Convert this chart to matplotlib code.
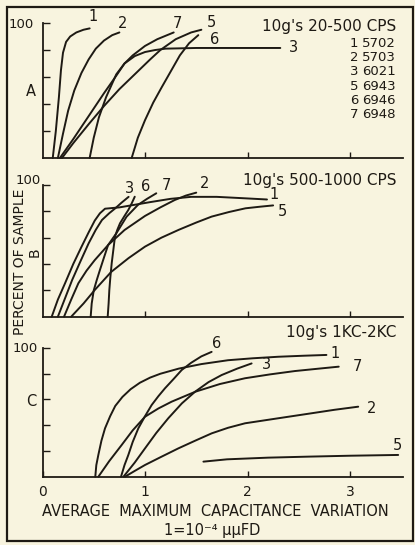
import matplotlib
matplotlib.use("Agg")
import matplotlib.pyplot as plt
from matplotlib.patches import Rectangle

BG = "#f8f4df"
INK = "#1e1a14"
plt.rcParams['font.family'] = ['DejaVu Sans']

# ---------------- data ----------------
# Panel A : 10g's 20-500 CPS
a1_x = [0.10, 0.13, 0.16, 0.18, 0.20, 0.23, 0.27, 0.33, 0.40, 0.46]
a1_y = [0, 20, 45, 65, 78, 86, 90, 93, 95, 96]
a2_x = [0.15, 0.20, 0.25, 0.31, 0.38, 0.45, 0.52, 0.60, 0.68, 0.75]
a2_y = [0, 18, 35, 50, 63, 73, 81, 87, 91, 93]
a3_x = [0.17, 0.30, 0.45, 0.60, 0.72, 0.80, 0.90, 1.00, 1.10, 1.20, 1.50, 1.90, 2.32]
a3_y = [0, 14, 31, 48, 61, 70, 75.5, 78.5, 80, 81, 81.5, 81.5, 81.5]
a5_x = [0.19, 0.30, 0.45, 0.60, 0.75, 0.90, 1.05, 1.15, 1.30, 1.45, 1.55]
a5_y = [0, 11, 25, 38.5, 51, 62, 73, 80, 88, 93, 95]
a6_x = [0.87, 0.93, 1.00, 1.08, 1.16, 1.25, 1.34, 1.43, 1.52]
a6_y = [0, 15, 28, 41, 52, 64, 76, 85, 91]
a7_x = [0.46, 0.50, 0.55, 0.62, 0.72, 0.80, 0.88, 1.00, 1.12, 1.28]
a7_y = [0, 15, 30, 45, 62, 70, 76, 83, 88, 93]

# Panel B : 10g's 500-1000 CPS
b1_x = [0.09, 0.15, 0.22, 0.30, 0.38, 0.45, 0.51, 0.56, 0.61, 0.75, 0.90, 1.05, 1.25, 1.45, 1.70, 1.95, 2.19]
b1_y = [0, 13, 25.4, 40, 53, 64, 73, 78.5, 82, 83, 85, 87, 89.5, 91, 91, 90, 89]
b2_x = [0.21, 0.28, 0.35, 0.43, 0.51, 0.64, 0.80, 1.00, 1.15, 1.29, 1.40, 1.50]
b2_y = [0, 13, 25.4, 35, 43, 54.4, 65.8, 76.5, 83, 88.6, 92, 94.2]
b3_x = [0.15, 0.22, 0.29, 0.37, 0.45, 0.52, 0.58, 0.65, 0.71, 0.77, 0.84]
b3_y = [0, 14, 28, 42, 55.7, 66, 73.4, 78.5, 82.3, 86.5, 91]
b5_x = [0.28, 0.40, 0.51, 0.67, 0.84, 1.00, 1.16, 1.33, 1.50, 1.65, 1.82, 1.98, 2.12, 2.25]
b5_y = [0, 10, 20.3, 34, 44.5, 53.2, 60, 66, 71.5, 76, 79.5, 82.3, 83.5, 84.5]
b6_x = [0.636, 0.645, 0.652, 0.662, 0.675, 0.69, 0.707, 0.73, 0.756, 0.80, 0.837, 0.87, 0.90]
b6_y = [0, 10, 20.3, 30, 40.5, 50, 60.7, 66, 70.9, 76.5, 81, 86, 91.1]
b7_x = [0.47, 0.48, 0.50, 0.53, 0.56, 0.60, 0.64, 0.72, 0.82, 0.93, 1.02, 1.11]
b7_y = [0, 10, 20, 28, 35.4, 45, 54.4, 63.3, 75.9, 84.8, 89.5, 93.7]

# Panel C : 10g's 1KC-2KC
c1_x = [0.515, 0.525, 0.545, 0.575, 0.61, 0.66, 0.71, 0.78, 0.86, 0.95, 1.05, 1.15, 1.33, 1.55, 1.81, 2.05, 2.30, 2.55, 2.77]
c1_y = [0, 9, 17, 28, 37.6, 47, 55, 62, 68, 73, 77, 80, 84, 87.5, 90.5, 92, 93.2, 94, 94.6]
c2_x = [0.805, 0.90, 1.00, 1.16, 1.325, 1.49, 1.651, 1.81, 1.976, 2.30, 2.626, 2.85, 3.08]
c2_y = [0, 4.5, 9.1, 15.5, 22, 28, 33.7, 38, 41.5, 45.4, 49.3, 52, 54.4]
c3_x = [0.79, 0.90, 1.00, 1.11, 1.227, 1.36, 1.488, 1.62, 1.748, 1.90, 2.04]
c3_y = [0, 11, 22, 34, 45.4, 57, 66, 73.5, 79, 84, 88]
c5_x = [1.57, 1.80, 2.20, 2.60, 3.00, 3.47]
c5_y = [11.7, 13.5, 14.8, 15.6, 16.3, 16.9]
c6_x = [0.766, 0.80, 0.837, 0.88, 0.935, 1.00, 1.065, 1.13, 1.195, 1.28, 1.358, 1.45, 1.55, 1.65]
c6_y = [0, 9, 16.8, 27, 37.6, 47, 55.7, 62.5, 68.7, 76, 82.9, 88.5, 93.5, 97]
c7_x = [0.545, 0.65, 0.772, 0.88, 1.00, 1.13, 1.26, 1.49, 1.73, 1.976, 2.22, 2.463, 2.70, 2.89]
c7_y = [0, 12, 24.6, 36, 46.6, 53, 58.3, 66, 72, 76.5, 79.5, 82.1, 84, 85.5]

# curve label anchors (data coordinates)
a_lab = ["1", "2", "7", "5", "6", "3"]
a_lab_x = [0.45, 0.74, 1.27, 1.60, 1.63, 2.40]
a_lab_y = [105, 100, 100, 100.5, 88, 81.5]
b_lab = ["3", "6", "7", "2", "1", "5"]
b_lab_x = [0.80, 0.96, 1.16, 1.54, 2.21, 2.30]
b_lab_y = [97.5, 98.5, 100, 101, 92.5, 80]
c_lab = ["6", "1", "3", "7", "2", "5"]
c_lab_x = [1.65, 2.81, 2.14, 3.03, 3.16, 3.42]
c_lab_y = [103.5, 96, 87, 85.5, 53, 24.5]

panel_titles = ["10g's 20-500 CPS", "10g's 500-1000 CPS", "10g's 1KC-2KC"]
panel_letters = ["A", "B", "C"]
tube_ids = ["1", "2", "3", "5", "6", "7"]
tube_types = ["5702", "5703", "6021", "6943", "6946", "6948"]
x_ticks = [0, 1, 2, 3]
x_ticklabels = ["0", "1", "2", "3"]
y_ticks = [20, 40, 60, 80, 100]
y_top_label = "100"

# ---------------- layout ----------------
W, H = 415, 545
FS = 10.5
fig = plt.figure(figsize=(W / 100, H / 100), dpi=100, facecolor=BG)

def px_axes(l, t, r, b):
    return fig.add_axes([l / W, 1 - b / H, (r - l) / W, (b - t) / H])

def ftext(x, y, s, **kw):
    kw.setdefault("fontsize", FS)
    kw.setdefault("color", INK)
    return fig.text(x / W, 1 - y / H, s, **kw)

XMAX = 3.52
x0px, upx = 42.5, 102.5
rpx = x0px + XMAX * upx
axA = px_axes(x0px, 23, rpx, 158)
axB = px_axes(x0px, 185, rpx, 316.7)
axC = px_axes(x0px, 348, rpx, 476.7)

panels = [
    (axA, [(a1_x, a1_y), (a2_x, a2_y), (a3_x, a3_y), (a5_x, a5_y), (a6_x, a6_y), (a7_x, a7_y)],
     a_lab, a_lab_x, a_lab_y),
    (axB, [(b1_x, b1_y), (b2_x, b2_y), (b3_x, b3_y), (b5_x, b5_y), (b6_x, b6_y), (b7_x, b7_y)],
     b_lab, b_lab_x, b_lab_y),
    (axC, [(c1_x, c1_y), (c2_x, c2_y), (c3_x, c3_y), (c5_x, c5_y), (c6_x, c6_y), (c7_x, c7_y)],
     c_lab, c_lab_x, c_lab_y),
]

for i, (ax, curves, labs, lx, ly) in enumerate(panels):
    ax.set_facecolor("none")
    ax.set_xlim(0, XMAX)
    ax.set_ylim(0, 100)
    for s in ["top", "right"]:
        ax.spines[s].set_visible(False)
    for s in ["left", "bottom"]:
        ax.spines[s].set_color(INK)
        ax.spines[s].set_linewidth(1.3)
    for cx, cy in curves:
        ax.plot(cx, cy, color=INK, lw=1.4, solid_capstyle="round",
                solid_joinstyle="round", clip_on=False)
    for t, x, y in zip(labs, lx, ly):
        ax.text(x, y, t, fontsize=FS, color=INK, ha="left", va="center", clip_on=False)
    ax.set_yticks(y_ticks)
    ax.set_yticklabels([])
    ax.tick_params(axis="y", direction="in", length=5, width=1, color=INK)
    if i == 2:
        ax.set_xticks(x_ticks)
        ax.set_xticklabels(x_ticklabels)
    else:
        ax.set_xticks(x_ticks[1:])
        ax.set_xticklabels([])
    ax.tick_params(axis="x", direction="in", length=4, width=1, color=INK,
                   labelsize=10, labelcolor=INK, pad=6)

# "100" labels at the top of each y axis
for (xr, yc) in [(34, 25), (41, 180), (38, 348)]:
    ftext(xr, yc, y_top_label, fontsize=9.5, ha="right", va="center")

# panel titles
for (yc, title) in zip([27, 180, 333], panel_titles):
    ftext(396, yc, title, fontsize=11, ha="right", va="center")

# panel letters
ftext(31, 92, panel_letters[0], ha="center", va="center")
ftext(35, 252, panel_letters[1], fontsize=10, ha="center", va="center", rotation=90)
ftext(31, 402, panel_letters[2], ha="center", va="center")

# legend list in panel A
for k, (tid, ttype) in enumerate(zip(tube_ids, tube_types)):
    yc = 43.5 + 14.2 * k
    ftext(354, yc, tid, fontsize=9.5, ha="center", va="center")
    ftext(396, yc, ttype, fontsize=9.5, ha="right", va="center")

# axis labels
ftext(20, 262, "PERCENT OF SAMPLE", fontsize=10, rotation=90, ha="center", va="center")
ftext(215, 512, "AVERAGE  MAXIMUM  CAPACITANCE  VARIATION", ha="center", va="center")
ftext(212, 530, "1=10\u207b\u2074 μμFD", fontsize=10.5, ha="center", va="center")

# outer frame
fig.patches.append(Rectangle((7 / W, 4 / H), (413 - 7) / W, (541 - 7) / H,
                             transform=fig.transFigure, fill=False, edgecolor=INK, lw=1.6))

fig.savefig("out.png", dpi=100, facecolor=BG)
